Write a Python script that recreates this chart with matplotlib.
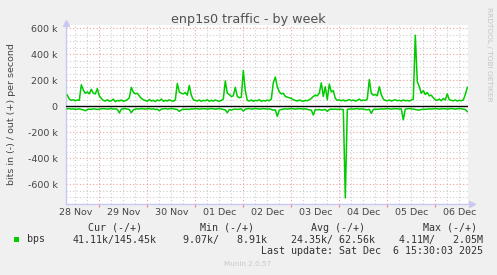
import numpy as np
import matplotlib
matplotlib.use("Agg")
import matplotlib.pyplot as plt
from matplotlib.ticker import MultipleLocator, FuncFormatter
from matplotlib.patches import Rectangle

# sampling grid: hours since 28 Nov 00:00, one point per hour
hours = np.arange(8, 209, 1)

# out (+) traffic, k bits per second
out_k = [85, 55, 45, 50, 42, 48, 45, 165, 125, 100,
         110, 95, 130, 100, 95, 135, 80, 60, 45, 40,
         50, 38, 42, 55, 35, 45, 40, 48, 38, 42,
         50, 65, 145, 110, 95, 100, 80, 60, 50, 45,
         38, 52, 40, 45, 36, 48, 42, 55, 38, 45,
         40, 50, 42, 38, 48, 175, 110, 100, 95, 105,
         85, 160, 85, 50, 45, 40, 48, 38, 45, 42,
         50, 38, 45, 40, 48, 42, 38, 45, 55, 195,
         100, 90, 75, 80, 145, 75, 65, 70, 275, 120,
         45, 40, 48, 38, 45, 42, 50, 38, 44, 40,
         48, 42, 55, 180, 225, 150, 110, 95, 100, 75,
         70, 65, 60, 50, 45, 40, 48, 42, 38, 45,
         42, 50, 60, 75, 85, 80, 100, 180, 75, 150,
         50, 170, 110, 120, 60, 45, 50, 42, 48, 40,
         45, 52, 42, 48, 40, 45, 55, 42, 48, 45,
         55, 205, 100, 85, 90, 80, 150, 90, 55, 45,
         42, 48, 40, 45, 50, 42, 46, 40, 48, 42,
         45, 40, 48, 55, 546, 190, 150, 100, 120, 90,
         105, 80, 85, 65, 50, 45, 55, 42, 60, 48,
         95, 50, 45, 42, 48, 40, 46, 42, 48, 90,
         145]

# in (-) traffic, k bits per second
in_k = [20, 18, 22, 20, 24, 22, 20, 25, 28, 35,
        25, 22, 24, 20, 22, 25, 22, 20, 18, 20,
        22, 20, 18, 22, 20, 24, 52, 22, 20, 18,
        22, 25, 50, 28, 22, 20, 22, 18, 20, 22,
        20, 18, 22, 20, 25, 22, 35, 22, 20, 18,
        22, 20, 18, 20, 22, 25, 40, 28, 22, 24,
        22, 25, 20, 22, 18, 20, 22, 20, 18, 20,
        22, 20, 18, 20, 22, 20, 18, 22, 25, 28,
        50, 25, 30, 24, 22, 25, 22, 20, 38, 22,
        20, 18, 22, 20, 18, 20, 22, 20, 18, 20,
        22, 20, 25, 30, 28, 78, 30, 25, 22, 20,
        22, 20, 18, 20, 22, 20, 18, 20, 22, 20,
        24, 28, 30, 68, 25, 28, 25, 30, 28, 25,
        40, 25, 22, 24, 22, 25, 22, 24, 26, 705,
        24, 22, 20, 22, 20, 18, 22, 20, 22, 25,
        28, 24, 55, 25, 22, 24, 22, 20, 22, 20,
        18, 20, 22, 20, 18, 20, 22, 20, 105, 22,
        20, 18, 20, 22, 25, 28, 30, 25, 22, 24,
        22, 20, 22, 20, 18, 20, 22, 20, 18, 20,
        22, 20, 18, 20, 22, 20, 18, 20, 22, 25,
        41]

day_labels = ["28 Nov", "29 Nov", "30 Nov", "01 Dec", "02 Dec",
              "03 Dec", "04 Dec", "05 Dec", "06 Dec"]

headers = ["Cur (-/+)", "Min (-/+)", "Avg (-/+)", "Max (-/+)"]
values = ["41.11k/145.45k", "9.07k/   8.91k", "24.35k/ 62.56k", "4.11M/   2.05M"]

W, H = 497, 275

def fx(x):
    return x / W

def fy(y):
    return 1 - y / H

fig = plt.figure(figsize=(W / 100, H / 100), dpi=100, facecolor="#f0f0f0")
ax = fig.add_axes([fx(66), fy(203.7), fx(468 - 66), (203.7 - 25) / H])
ax.set_facecolor("white")

out_bps = np.array(out_k) * 1000
in_bps = np.array(in_k) * 1000

ax.axhline(0, color="black", lw=1, zorder=3)
ax.plot(hours, out_bps, color="#00cc00", lw=1.1, zorder=4)
ax.plot(hours, -in_bps, color="#00cc00", lw=1.1, zorder=4)

ax.set_xlim(7.35, 208.35)
ax.set_ylim(-750000, 625000)

# grid
ax.xaxis.set_major_locator(MultipleLocator(24))
ax.xaxis.set_minor_locator(MultipleLocator(6))
ax.yaxis.set_major_locator(MultipleLocator(200000))
ax.yaxis.set_minor_locator(MultipleLocator(50000))
ax.grid(which="major", color="#f0a0a0", linestyle=(0, (1, 2)), lw=0.8)
ax.grid(which="minor", color="#cccccc", linestyle=(0, (1, 2)), lw=0.8)
ax.set_axisbelow(True)

def xlab(v, pos):
    idx = int(round((v - 12) / 24))
    if abs(v - (12 + 24 * idx)) < 0.1 and 0 <= idx < len(day_labels):
        return day_labels[idx]
    return ""

def ylab(v, pos):
    if abs(v) < 1:
        return "0"
    return "%d k" % round(v / 1000)

ax.xaxis.set_major_formatter(FuncFormatter(lambda v, p: ""))
ax.xaxis.set_minor_formatter(FuncFormatter(xlab))
ax.yaxis.set_major_formatter(FuncFormatter(ylab))
ax.tick_params(axis="x", which="major", length=2, color="#f08080", direction="out")
ax.tick_params(axis="x", which="minor", length=0, pad=3, labelsize=6.8, labelcolor="#444444")
ax.tick_params(axis="y", which="major", length=0, pad=6, labelsize=6.8, labelcolor="#444444")
ax.tick_params(axis="y", which="minor", length=0)

for s in ["top", "right"]:
    ax.spines[s].set_visible(False)
for s in ["left", "bottom"]:
    ax.spines[s].set_color("#c8c8f0")
    ax.spines[s].set_linewidth(1)

# axis arrows
ax.plot([0], [1.01], marker="^", ms=4, color="#c8c8f0", transform=ax.transAxes, clip_on=False)
ax.plot([1.01], [0], marker=">", ms=4, color="#c8c8f0", transform=ax.transAxes, clip_on=False)

fig.text(fx(248), fy(19), "enp1s0 traffic - by week", ha="center", va="center",
         fontsize=9.2, color="#505050")
fig.text(fx(12), fy(114), "bits in (-) / out (+) per second", rotation=90,
         ha="center", va="center", fontsize=6.8, color="#444444")
fig.text(fx(489), fy(54), "RRDTOOL / TOBI OETIKER", rotation=270,
         ha="center", va="center", fontsize=5.3, color="#c4c4c4")

# legend
mono = "DejaVu Sans Mono"
fig.patches.append(Rectangle((fx(14), fy(242)), 5 / W, 5 / H, transform=fig.transFigure,
                             facecolor="#00cc00", edgecolor="none"))
fig.text(fx(27), fy(239.5), "bps", ha="left", va="center", family=mono, fontsize=7.2, color="#333333")
head_right = [142, 254, 365, 477]
val_right = [157, 267, 375, 483]
for h, xr in zip(headers, head_right):
    fig.text(fx(xr), fy(228), h, ha="right", va="center", family=mono, fontsize=7.2, color="#333333")
for v, xr in zip(values, val_right):
    fig.text(fx(xr), fy(239.5), v, ha="right", va="center", family=mono, fontsize=7.2, color="#333333")
fig.text(fx(483), fy(251), "Last update: Sat Dec  6 15:30:03 2025", ha="right", va="center",
         family=mono, fontsize=7.2, color="#333333")
fig.text(fx(248), fy(264), "Munin 2.0.57", ha="center", va="center", fontsize=5.2, color="#c8c8c8")

fig.savefig("out.png", dpi=100, facecolor=fig.get_facecolor())
